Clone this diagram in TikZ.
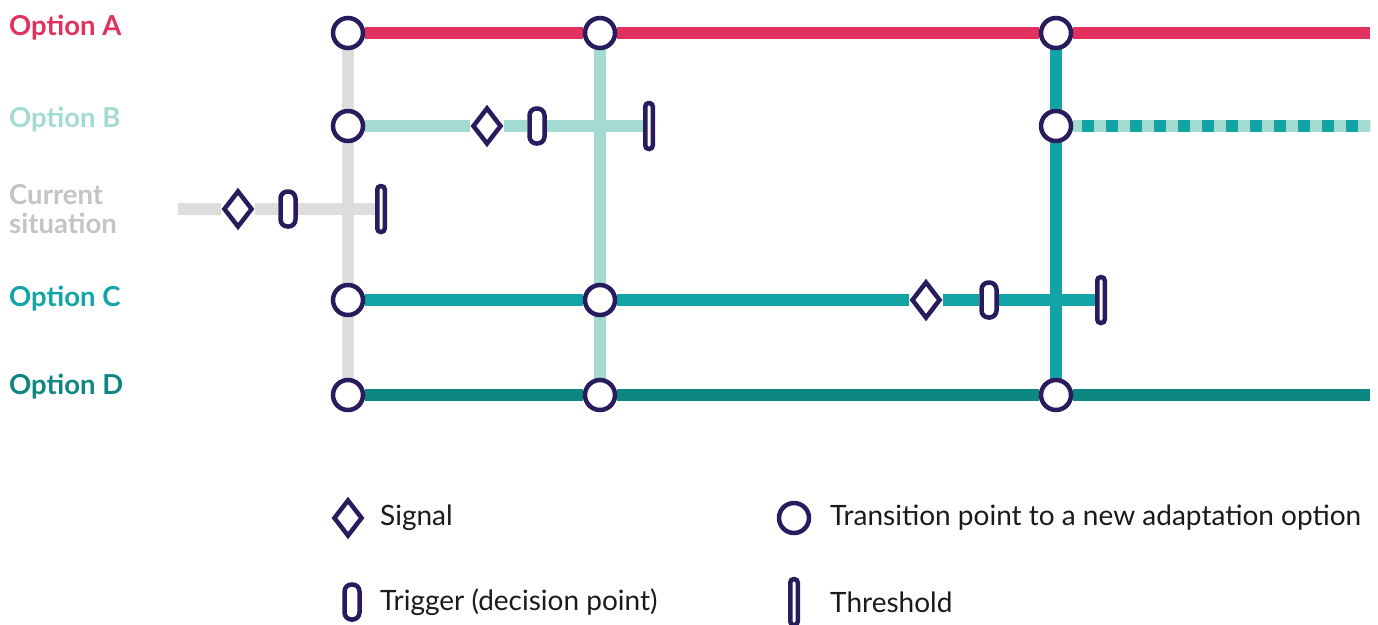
\documentclass[tikz,border=0pt]{standalone}
\usepackage{fontspec}
\setmainfont{Lato}
\usetikzlibrary{shapes.geometric}
\definecolor{cA}{HTML}{E2315F}
\definecolor{cB}{HTML}{A3DBD3}
\definecolor{cCur}{HTML}{DDDDDD}
\definecolor{cCurT}{HTML}{C4C4C4}
\definecolor{cC}{HTML}{13A5A5}
\definecolor{cD}{HTML}{0E8782}
\definecolor{ink}{HTML}{2A1A5E}
\definecolor{txt}{HTML}{1A1A1A}
\pgfdeclarelayer{bg}
\pgfsetlayers{bg,main}
\begin{document}
\begin{tikzpicture}[x=1pt,y=-1pt,
  trans/.style={circle, draw=ink, line width=4.5pt, fill=white, minimum size=30pt, inner sep=0pt},
  signal/.style={diamond, draw=ink, line width=4.5pt, fill=white, minimum width=29pt, minimum height=37pt, inner sep=0pt},
  trig/.style={rectangle, rounded corners=7pt, draw=ink, line width=4.5pt, fill=white, minimum width=15pt, minimum height=35pt, inner sep=0pt},
  thresh/.style={rectangle, rounded corners=3.5pt, draw=ink, line width=4.5pt, fill=white, minimum width=7.5pt, minimum height=46pt, inner sep=0pt},
  track/.style={line width=12.5pt},
  lab/.style={anchor=west, font=\bfseries\fontsize{27.5}{29}\selectfont, align=left, inner sep=0pt},
  leg/.style={anchor=west, font=\fontsize{28}{30}\selectfont, text=txt, inner sep=0pt}
]
\path[use as bounding box] (0,0) rectangle (1378,624);

% labels
\node[lab, text=cA] (lA) at (9,28) {Option A};
\node[lab, text=cB] (lB) at (9,120) {Option B};
\node[lab, text=cCurT] (lCur) at (9,209) {Current\\situation};
\node[lab, text=cC] (lC) at (9,299) {Option C};
\node[lab, text=cD] (lD) at (9,387) {Option D};

% transition points
\node[trans] (A1) at (348,33) {};
\node[trans] (A2) at (600,33) {};
\node[trans] (A3) at (1056,33) {};
\node[trans] (B1) at (348,126) {};
\node[trans] (B4) at (1056,126) {};
\node[trans] (C1) at (348,300) {};
\node[trans] (C2) at (600,300) {};
\node[trans] (D1) at (348,395) {};
\node[trans] (D2) at (600,395) {};
\node[trans] (D3) at (1056,395) {};

% signals, triggers, thresholds
\node[signal] (sCur) at (238,209) {};
\node[trig] (tCur) at (288,209) {};
\node[thresh] (hCur) at (381,209) {};
\node[signal] (sB) at (487,126) {};
\node[trig] (tB) at (537,126) {};
\node[thresh] (hB) at (649,126) {};
\node[signal] (sC) at (926,300) {};
\node[trig] (tC) at (989,300) {};
\node[thresh] (hC) at (1101,300) {};

\coordinate (cur0) at (178,209);
\coordinate (Aend) at (1370,33);
\coordinate (Bend) at (1370,126);
\coordinate (Bd0) at (1082,126);
\coordinate (Dend) at (1370,395);

\begin{pgfonlayer}{bg}
  % horizontal tracks
  \draw[track, cCur] (cur0) -- (sCur) -- (tCur) -- (hCur);
  \draw[track, cA] (A1) -- (A2) -- (A3) -- (Aend);
  \draw[track, cB] (B1) -- (sB) -- (tB) -- (hB);
  \draw[track, cB] (B4) -- (Bend);
  \draw[track, cC, dash pattern=on 12pt off 12pt] (Bd0) -- (Bend);
  \draw[track, cC] (C1) -- (C2) -- (sC) -- (tC) -- (hC);
  \draw[track, cD] (D1) -- (D2) -- (D3) -- (Dend);
  % vertical tracks
  \draw[track, cCur] (A1.center) -- (D1.center);
  \draw[track, cB] (A2.center) -- (D2.center);
  \draw[track, cC] (A3.center) -- (D3.center);
\end{pgfonlayer}

% legend
\node[signal] (gS) at (348,518) {};
\node[leg] (gSt) at (380,518) {Signal};
\node[trans] (gT) at (794,518) {};
\node[leg] (gTt) at (830,518) {Transition point to a new adaptation option};
\node[trig] (gR) at (352,602) {};
\node[leg] (gRt) at (380,602) {Trigger (decision point)};
\node[thresh] (gH) at (794,602) {};
\node[leg] (gHt) at (830,602) {Threshold};
\end{tikzpicture}
\end{document}
